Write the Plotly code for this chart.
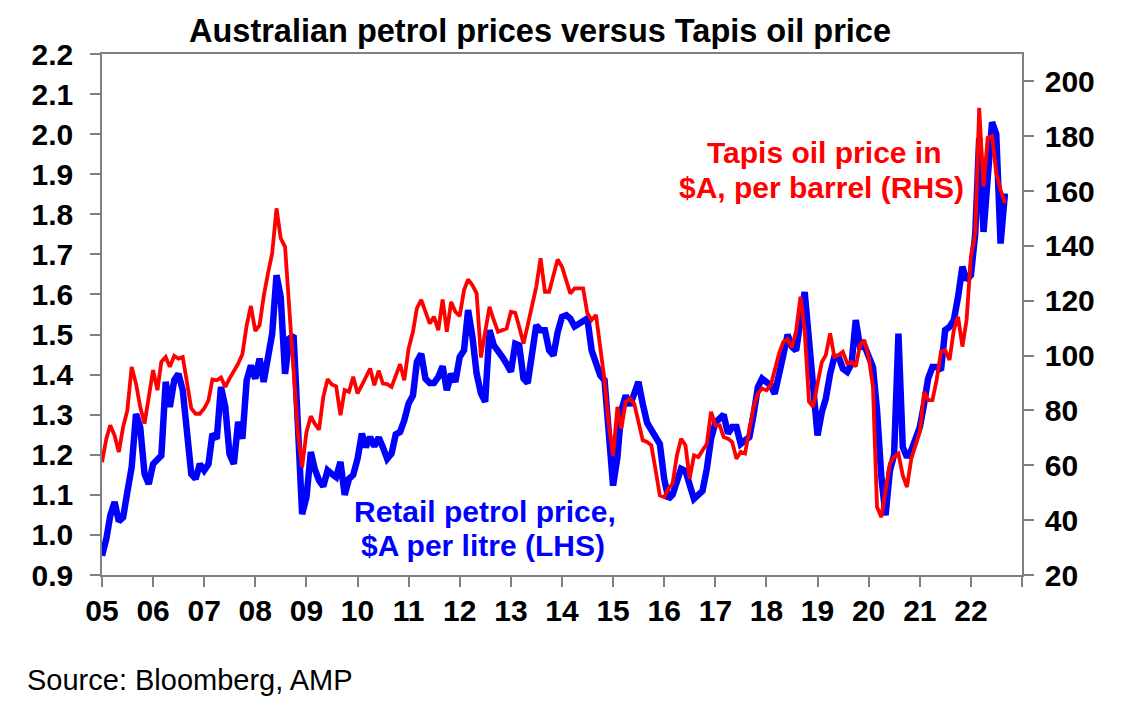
import pandas as pd
import plotly.graph_objects as go

# Monthly data, Jan 2005 - Sep 2022
start_month = "2005-01-01"

petrol = [  # Retail petrol price, $A per litre (LHS)
    0.948, 0.99, 1.048, 1.082, 1.034, 1.044, 1.107, 1.169, 1.302, 1.269, 1.152, 1.127,
    1.177, 1.186, 1.198, 1.382, 1.319, 1.386, 1.402, 1.361, 1.252, 1.152, 1.14, 1.177,
    1.161, 1.177, 1.252, 1.24, 1.369, 1.319, 1.202, 1.177, 1.282, 1.24, 1.386, 1.423,
    1.39, 1.44, 1.382, 1.452, 1.502, 1.648, 1.594, 1.402, 1.49, 1.498, 1.236, 1.052,
    1.094, 1.207, 1.165, 1.136, 1.121, 1.161, 1.152, 1.144, 1.182, 1.10, 1.14, 1.15,
    1.19, 1.253, 1.219, 1.244, 1.221, 1.243, 1.219, 1.19, 1.203, 1.251, 1.257, 1.286,
    1.328, 1.348, 1.432, 1.452, 1.39, 1.379, 1.379, 1.394, 1.421, 1.361, 1.402, 1.382,
    1.444, 1.461, 1.561, 1.494, 1.402, 1.353, 1.332, 1.511, 1.473, 1.461, 1.444, 1.427,
    1.407, 1.477, 1.473, 1.39, 1.379, 1.452, 1.523, 1.511, 1.511, 1.461, 1.448, 1.506,
    1.544, 1.548, 1.54, 1.52, 1.528, 1.536, 1.54, 1.46, 1.423, 1.398, 1.386, 1.27,
    1.123, 1.194, 1.311, 1.348, 1.323, 1.352, 1.382, 1.327, 1.28, 1.262, 1.245, 1.227,
    1.14, 1.09, 1.10, 1.14, 1.165, 1.16, 1.125, 1.09, 1.10, 1.11, 1.165, 1.24,
    1.28, 1.29, 1.30, 1.253, 1.269, 1.269, 1.227, 1.236, 1.244, 1.30, 1.369, 1.39,
    1.382, 1.373, 1.352, 1.411, 1.448, 1.50, 1.47, 1.46, 1.527, 1.606, 1.486, 1.344,
    1.248, 1.307, 1.34, 1.402, 1.444, 1.444, 1.415, 1.407, 1.427, 1.536, 1.469, 1.473,
    1.448, 1.419, 1.311, 1.144, 1.049, 1.16, 1.20, 1.502, 1.219, 1.194, 1.211, 1.244,
    1.269, 1.328, 1.39, 1.419, 1.419, 1.411, 1.511, 1.519, 1.536, 1.594, 1.669, 1.636,
    1.648, 1.752, 1.99, 1.756, 1.90, 2.03, 2.00, 1.727, 1.852,
]

tapis = [  # Tapis oil price in $A per barrel (RHS)
    61.2, 69.7, 74.6, 70.9, 64.8, 74, 80, 95.9, 89.8, 81.3, 75.2, 84.9,
    94.7, 87.4, 97.7, 99.5, 95.9, 99.9, 98.9, 99.5, 89.8, 80.7, 78.8, 78.8,
    80.7, 83.7, 91.3, 91, 92, 88.6, 91.6, 94.1, 97.1, 100.5, 111.1, 118.1,
    109, 111.1, 121.5, 130, 137.3, 153.7, 142.8, 139.7, 116, 90, 71.5, 59.3,
    72.1, 77.9, 75.2, 73, 84.9, 91.4, 89.5, 88.8, 78.3, 87.4, 86.8, 92.3,
    86.2, 89.2, 92.3, 95.3, 89.2, 94.5, 89.8, 89.6, 88.6, 92.9, 96.9, 91,
    102.6, 108.7, 117.2, 120.3, 116, 111.7, 114.2, 109.3, 120.5, 108.7, 119.6, 116,
    114.4, 123.9, 127.8, 125.7, 122.7, 99.3, 108.7, 117.8, 112.9, 108.7, 109.3, 109.9,
    116, 115.6, 110.5, 104.4, 111.1, 117.8, 125.1, 135.5, 123.3, 123.3, 130, 135.1,
    132.4, 127, 122.7, 124.5, 124.5, 124.5, 115.4, 113, 114.8, 102, 91, 75,
    63.6, 81.3, 73.4, 83.1, 84.4, 82.5, 75.2, 69.1, 68.5, 67.3, 58.2, 49,
    48.4, 51.5, 53.3, 63.6, 69.7, 67.3, 55.1, 63.6, 63, 65.5, 67.9, 79.5,
    74.6, 74.6, 70.3, 69.7, 68.5, 62.4, 64.9, 64.3, 72.8, 81.3, 86.2, 88,
    87.4, 89.2, 94.7, 100.8, 105, 106, 103, 109, 121.5, 109, 83.2, 81.3,
    89.8, 97.7, 100.2, 108.1, 99.6, 100.2, 101.4, 97.2, 97.7, 96, 103.9, 105.7,
    99.6, 88.6, 44.8, 41.1, 50.9, 60.6, 63.1, 64.3, 56.3, 52.1, 62.4, 67.3,
    72.2, 86.8, 83.8, 83.8, 91.1, 101.4, 102, 98.4, 109.4, 114.2, 103.3, 113,
    136.2, 144.7, 190.4, 161.7, 179.4, 180, 166.6, 160.5, 155.6,
]

year_ticks = [str(y) for y in range(2005, 2024)]
year_labels = ["05", "06", "07", "08", "09", "10", "11", "12", "13", "14",
               "15", "16", "17", "18", "19", "20", "21", "22", ""]
left_ticks = [0.9, 1.0, 1.1, 1.2, 1.3, 1.4, 1.5, 1.6, 1.7, 1.8, 1.9, 2.0, 2.1, 2.2]
right_ticks = [20, 40, 60, 80, 100, 120, 140, 160, 180, 200]

dates = pd.date_range(start_month, periods=len(petrol), freq="MS")

FONT = "Liberation Sans, Arial, sans-serif"
AXIS_GREY = "#808080"

# page has an 8px body margin; figure is sized so the plot area lands
# at page pixels x 102-1022, y 54-575
W, H = 1120, 699
OFF = 8

fig = go.Figure()
fig.add_trace(go.Scatter(
    x=dates, y=petrol, mode="lines", name="Retail petrol price",
    line=dict(color="#0000FF", width=6.5), yaxis="y",
))
fig.add_trace(go.Scatter(
    x=dates, y=tapis, mode="lines", name="Tapis oil price",
    line=dict(color="#FF0000", width=3.8), yaxis="y2",
))

tickfont = dict(family=FONT, size=30, color="black", weight="bold")

fig.update_layout(
    width=W, height=H,
    margin=dict(l=102 - OFF, r=(W + OFF) - 1022, t=54 - OFF, b=(H + OFF) - 575),
    paper_bgcolor="white", plot_bgcolor="white",
    showlegend=False,
    title=dict(
        text="Australian petrol prices versus Tapis oil price",
        x=(540 - OFF) / W, xanchor="center", y=1 - (31 - OFF) / H, yanchor="middle",
        font=dict(family=FONT, size=32.5, color="black", weight="bold"),
    ),
    xaxis=dict(
        type="date",
        range=["2005-01-01", "2023-01-01"],
        tickvals=[f"{y}-01-01" for y in year_ticks],
        ticktext=year_labels,
        ticks="outside", ticklen=10, tickwidth=1.5, tickcolor=AXIS_GREY,
        showline=True, linecolor=AXIS_GREY, linewidth=1.5, mirror=True,
        showgrid=False, zeroline=False,
        tickfont=tickfont, ticklabelstandoff=-2,
    ),
    yaxis=dict(
        range=[0.9, 2.2], tickvals=left_ticks, tickformat=".1f",
        ticks="outside", ticklen=10, tickwidth=1.5, tickcolor=AXIS_GREY,
        showline=True, linecolor=AXIS_GREY, linewidth=1.5,
        showgrid=False, zeroline=False,
        tickfont=tickfont, ticklabelstandoff=11,
    ),
    yaxis2=dict(
        range=[20, 210], tickvals=right_ticks, overlaying="y", side="right",
        ticks="outside", ticklen=10, tickwidth=1.5, tickcolor=AXIS_GREY,
        showline=True, linecolor=AXIS_GREY, linewidth=1.5,
        showgrid=False, zeroline=False,
        tickfont=tickfont, ticklabelstandoff=5,
    ),
)

red_font = dict(family=FONT, size=30, color="#FF0000", weight="bold")
blue_font = dict(family=FONT, size=30, color="#0000FF", weight="bold")


def px_x(px):
    return (px - 102) / 920


def px_y(py):
    return (575 - py) / 521


annos = [
    ("Tapis oil price in", 824, 153, red_font),
    ("$A, per barrel (RHS)", 821, 187, red_font),
    ("Retail petrol price,", 485, 511, blue_font),
    ("$A per litre (LHS)", 483, 545, blue_font),
]
for text, ax, ay, f in annos:
    fig.add_annotation(
        text=text, x=px_x(ax), y=px_y(ay), xref="paper", yref="paper",
        xanchor="center", yanchor="middle", showarrow=False, font=f,
    )

fig.add_annotation(
    text="Source: Bloomberg, AMP", x=px_x(25), y=px_y(680),
    xref="paper", yref="paper", xanchor="left", yanchor="middle",
    showarrow=False, font=dict(family=FONT, size=29, color="black"),
)

fig.write_html("out.html")
